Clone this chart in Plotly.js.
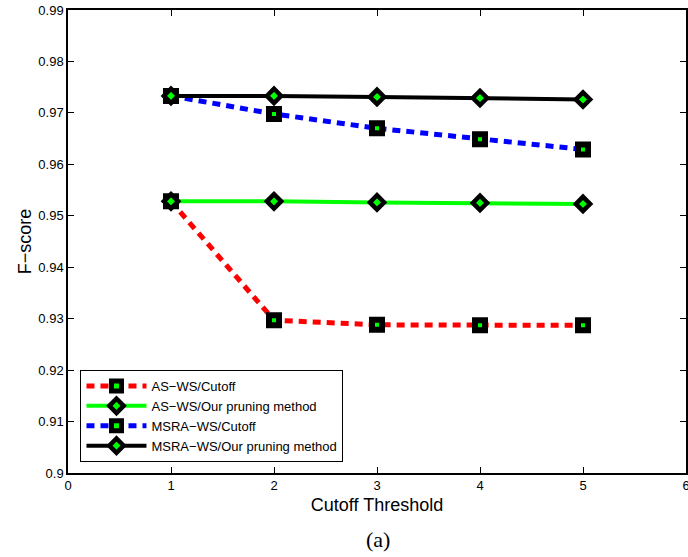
<!DOCTYPE html>
<html>
<head>
<meta charset="utf-8">
<script src="https://cdn.plot.ly/plotly-3.0.1.min.js"></script>
<style>html,body{margin:0;padding:0;background:#fff;}#chart{width:688px;height:557px;}</style>
</head>
<body>
<div id="chart"></div>
<script>
var thresholds = [1, 2, 3, 4, 5];
var asCutoff = [0.9528, 0.9297, 0.9288, 0.9287, 0.9287];
var asOurs = [0.9528, 0.9528, 0.9526, 0.9525, 0.9523];
var msraCutoff = [0.9733, 0.9698, 0.9670, 0.9649, 0.9629];
var msraOurs = [0.9733, 0.9733, 0.9731, 0.9729, 0.9726];
var seriesNames = ["AS\u2212WS/Cutoff", "AS\u2212WS/Our pruning method", "MSRA\u2212WS/Cutoff", "MSRA\u2212WS/Our pruning method"];
var xTicks = [0, 1, 2, 3, 4, 5, 6];
var yTicks = [0.9, 0.91, 0.92, 0.93, 0.94, 0.95, 0.96, 0.97, 0.98, 0.99];

var sq = {symbol: "square", size: 10, color: "#00ff00", line: {color: "#000", width: 6}};
var dm = {symbol: "diamond", size: 11, color: "#00ff00", line: {color: "#000", width: 4.5}};

var traces = [
  {x: thresholds, y: asCutoff, name: seriesNames[0], mode: "lines+markers", line: {color: "#ff0000", width: 5, dash: "8px,6px"}, marker: sq},
  {x: thresholds, y: asOurs, name: seriesNames[1], mode: "lines+markers", line: {color: "#00ff00", width: 4}, marker: dm},
  {x: thresholds, y: msraCutoff, name: seriesNames[2], mode: "lines+markers", line: {color: "#0000ff", width: 5, dash: "8px,6px"}, marker: sq},
  {x: thresholds, y: msraOurs, name: seriesNames[3], mode: "lines+markers", line: {color: "#000000", width: 4}, marker: dm}
];

var sans = "Liberation Sans, Arial, sans-serif";
var axisFont = {family: sans, size: 13, color: "#000"};
var layout = {
  width: 688, height: 557,
  margin: {l: 67.5, r: 1.5, t: 10, b: 84},
  paper_bgcolor: "#fff", plot_bgcolor: "#fff",
  showlegend: true,
  legend: {x: 0.0202, y: 0.0238, xanchor: "left", yanchor: "bottom", bgcolor: "#fff", bordercolor: "#000", borderwidth: 1,
    font: {family: sans, size: 13, color: "#000"}, tracegroupgap: 0, itemwidth: 60},
  xaxis: {range: [0, 6], tickvals: xTicks, ticks: "inside", ticklen: 6, tickcolor: "#000", mirror: "ticks",
    showline: true, linecolor: "#000", linewidth: 1.5, showgrid: false, zeroline: false, tickfont: axisFont,
    ticklabeloverflow: "allow",
    title: {text: "Cutoff Threshold", font: {family: sans, size: 18, color: "#000"}, standoff: 6}},
  yaxis: {range: [0.9, 0.99], tickvals: yTicks, ticks: "inside", ticklen: 6, tickcolor: "#000", mirror: "ticks",
    showline: true, linecolor: "#000", linewidth: 1.5, showgrid: false, zeroline: false, tickfont: axisFont,
    title: {text: "F\u2212score", font: {family: sans, size: 18, color: "#000"}, standoff: 2}},
  annotations: [{text: "(a)", xref: "paper", yref: "paper", x: 0.5016, y: -0.1447, xanchor: "center", yanchor: "middle", showarrow: false,
    font: {family: "Liberation Serif, DejaVu Serif, serif", size: 22, color: "#000"}}]
};
Plotly.newPlot("chart", traces, layout, {displayModeBar: false});
</script>
</body>
</html>
